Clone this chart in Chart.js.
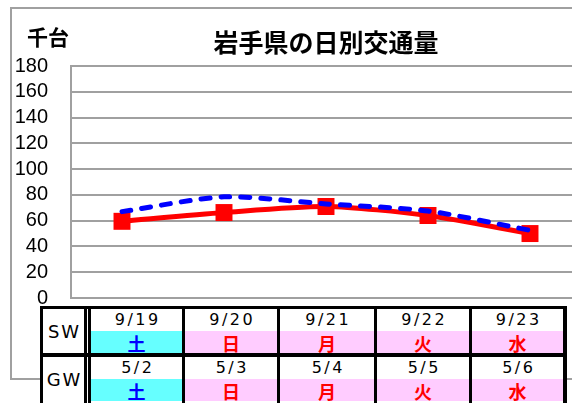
<!DOCTYPE html>
<html><head><meta charset="utf-8">
<script src="https://cdn.jsdelivr.net/npm/chart.js@4"></script>
<style>
html,body{margin:0;padding:0;background:#fff;}
body{width:572px;height:403px;overflow:hidden;position:relative;}
#frame{position:absolute;left:10px;top:7px;width:620px;height:373px;border-left:2px solid #a0a0a0;border-top:2px solid #a0a0a0;border-bottom:2px solid #a0a0a0;box-sizing:border-box;}
#c{position:absolute;left:0;top:0;}
#tbl{position:absolute;left:0;top:0;width:572px;height:403px;}
.cell{position:absolute;display:flex;align-items:center;justify-content:center;box-sizing:border-box;}
</style>
</head><body>
<div id="frame"></div>
<canvas id="c" width="600" height="403"></canvas>
<div id="tbl"></div>
<script>
const categories = ['9/19', '9/20', '9/21', '9/22', '9/23'];
const swDates = ['9/19', '9/20', '9/21', '9/22', '9/23'];
const gwDates = ['5/2', '5/3', '5/4', '5/5', '5/6'];
const weekdays = ['土', '日', '月', '火', '水'];
const redValues = [59.5, 66.3, 71, 64, 50];
const blueValues = [67, 78.5, 73, 67.5, 52.5];
const yTicks = [0, 20, 40, 60, 80, 100, 120, 140, 160, 180];
const rowLabels = ['SW', 'GW'];

const unitPlugin = {
  id: 'unit',
  afterDraw(chart) {
    const ctx = chart.ctx;
    ctx.save();
    ctx.font = 'bold 21px "Noto Sans CJK JP"';
    ctx.fillStyle = '#000';
    ctx.textAlign = 'left';
    ctx.textBaseline = 'middle';
    ctx.fillText('千台', 27, 37);
    ctx.restore();
  }
};

new Chart(document.getElementById('c'), {
  type: 'line',
  data: {
    labels: categories,
    datasets: [
      { label: 'GW', data: blueValues, borderColor: '#0000ff', borderWidth: 5, borderDash: [9, 11],
        borderCapStyle: 'round', pointRadius: 0, tension: 0.25, fill: false },
      { label: 'SW', data: redValues, borderColor: '#ff0000', backgroundColor: '#ff0000', borderWidth: 5,
        pointStyle: 'rect', pointRadius: 12, pointBorderWidth: 0, pointBackgroundColor: '#ff0000',
        tension: 0.25, fill: false }
    ]
  },
  options: {
    responsive: false, animation: false, devicePixelRatio: 1,
    layout: { padding: { left: 0, right: 19, top: 0, bottom: 105 } },
    plugins: {
      legend: { display: false }, tooltip: { enabled: false },
      title: { display: true, text: '岩手県の日別交通量', fullSize: false, color: '#000',
        font: { family: '"Noto Sans CJK JP"', size: 25, weight: 'bold', lineHeight: 1.2 },
        padding: { top: 27.5, bottom: 8.5 } }
    },
    scales: {
      x: { display: false, offset: true },
      y: {
        min: 0, max: 180,
        afterFit(s) { s.width = 71; },
        afterBuildTicks(s) { s.ticks = yTicks.map(v => ({ value: v })); },
        grid: { color: '#a0a0a0', lineWidth: 2, drawTicks: false },
        border: { color: '#a0a0a0', width: 2 },
        ticks: { autoSkip: false, padding: 23, color: '#000', font: { family: '"Liberation Sans"', size: 20 } }
      }
    }
  },
  plugins: [unitPlugin]
});

// table below the chart
const tbl = document.getElementById('tbl');
function box(x, y, w, h, bg) {
  const d = document.createElement('div');
  d.className = 'cell';
  d.style.left = x + 'px'; d.style.top = y + 'px';
  d.style.width = w + 'px'; d.style.height = h + 'px';
  d.style.background = bg;
  tbl.appendChild(d);
  return d;
}
box(40, 306, 527, 100, '#fff');
const colL = [91, 185, 280, 377, 472];
const colW = [91, 92, 94, 92, 91];
const rowTop = [309, 357];
[swDates, gwDates].forEach((dates, r) => {
  const top = rowTop[r];
  const lab = box(43, top, 41, 44, '#fff');
  lab.textContent = rowLabels[r];
  lab.style.font = '18px "DejaVu Sans"';
  lab.style.letterSpacing = '2px';
  lab.style.paddingLeft = '2px';
  dates.forEach((d, i) => {
    const c = box(colL[i], top, colW[i], 22, '#fff');
    c.textContent = d;
    c.style.font = '16px "DejaVu Sans"';
    c.style.letterSpacing = '2.5px';
    c.style.paddingLeft = '2.5px';
    c.style.paddingBottom = '1px';
    const isSat = weekdays[i] === '土';
    const w = box(colL[i], top + 22, colW[i], 22, isSat ? '#66ffff' : '#ffccff');
    w.textContent = weekdays[i];
    w.style.font = 'bold 18px "Noto Sans CJK JP"';
    w.style.color = isSat ? '#0000ff' : '#ff0000';
    w.style.paddingTop = '2px';
  });
});
// black lines
box(40, 306, 527, 3, '#000');
box(40, 306, 3, 100, '#000');
box(84, 306, 3, 100, '#000');
box(88, 306, 3, 100, '#000');
[182, 277, 374, 469].forEach(x => box(x, 306, 3, 100, '#000'));
box(563, 306, 4, 100, '#000');
box(40, 353, 527, 4, '#000');
</script>
</body></html>
